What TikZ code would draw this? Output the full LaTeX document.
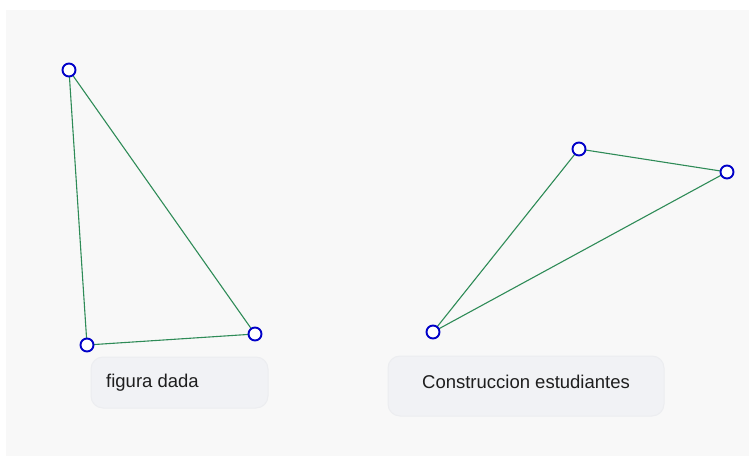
\documentclass[tikz,border=0pt]{standalone}
\usepackage{fontspec}
\setmainfont{Liberation Sans}
\definecolor{panel}{HTML}{F8F8F8}
\definecolor{boxfill}{HTML}{F1F2F5}
\definecolor{boxedge}{HTML}{ECEDF0}
\definecolor{edgegreen}{HTML}{2E8B57}
\definecolor{ptblue}{HTML}{0000C8}
\definecolor{txt}{HTML}{1E1E1E}
\begin{document}
\begin{tikzpicture}[x=1pt,y=-1pt,
  pt/.style={circle,draw=ptblue,fill=white,line width=1.9pt,minimum size=13pt,inner sep=0pt},
  side/.style={edgegreen,line width=1.1pt},
  labelbox/.style={draw=boxedge,fill=boxfill,rounded corners=12pt,line width=1pt},
  lbl/.style={font=\fontsize{18.5}{20}\selectfont,text=txt,inner sep=0pt}
]
\useasboundingbox (0,0) rectangle (751,457);
\fill[white] (0,0) rectangle (751,457);
\fill[panel] (6,10) rectangle (749,456);

% label boxes
\draw[labelbox] (91,357) rectangle (268,408);
\draw[labelbox] (388,356) rectangle (664,416);

% vertices of the given figure
\coordinate (A) at (69,70);
\coordinate (B) at (87,345);
\coordinate (C) at (255,334);
% vertices of the students' construction
\coordinate (D) at (433,332);
\coordinate (E) at (579,149);
\coordinate (F) at (727,172);

\draw[side] (A) -- (B) -- (C) -- cycle;
\draw[side] (D) -- (E) -- (F) -- cycle;

% points drawn above the sides
\foreach \p in {A,B,C,D,E,F}
  \node[pt] (\p pt) at (\p) {};

% captions
\node[lbl,anchor=west] (t1) at (106,382.5) {figura dada};
\node[lbl] (t2) at (526,382) {Construccion estudiantes};
\end{tikzpicture}
\end{document}
